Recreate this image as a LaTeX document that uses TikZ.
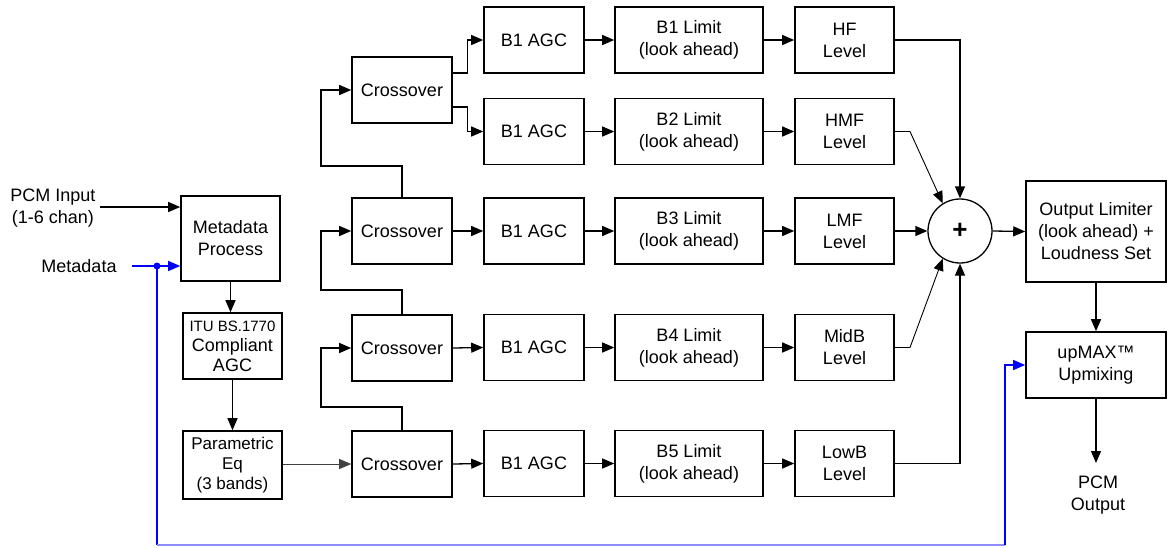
\documentclass[tikz,border=0pt]{standalone}
\usepackage{fontspec}
\setmainfont{Liberation Sans}
\usetikzlibrary{arrows.meta,calc}
\begin{document}
\begin{tikzpicture}[x=1pt,y=-1pt,
 box/.style={draw,line width=1.6pt,align=center,inner sep=0pt,font=\fontsize{18}{22}\selectfont},
 arr/.style={line width=1.3pt,-{Triangle[length=12pt,width=10pt]}},
 ln/.style={line width=1.3pt},
 thin arr/.style={line width=0.9pt,-{Triangle[length=12pt,width=10pt]}},
 lbl/.style={align=center,font=\fontsize{18}{22}\selectfont,inner sep=0pt}]
\useasboundingbox (0,0) rectangle (1168,547);

% left column
\node[box,minimum width=99pt,minimum height=85pt] (meta) at (230.5,238.5) {Metadata\\Process};
\node[box,minimum width=99pt,minimum height=66pt,font=\fontsize{15}{20}\selectfont] (itu) at (232.5,346) {ITU BS.1770\\\fontsize{18}{20}\selectfont Compliant\\\fontsize{18}{20}\selectfont AGC};
\node[box,minimum width=99pt,minimum height=68pt,font=\fontsize{17}{20}\selectfont] (peq) at (232.5,465) {Parametric\\Eq\\(3 bands)};

\node[lbl] (pcmin) at (53,208) {PCM Input\\(1-6 chan)};
\node[lbl] (mdlbl) at (79,266) {Metadata};

% crossovers
\node[box,minimum width=100pt,minimum height=66pt] (cross1) at (402,90) {Crossover};
\node[box,minimum width=100pt,minimum height=66pt] (cross2) at (402,231) {Crossover};
\node[box,minimum width=100pt,minimum height=66pt] (cross3) at (402,348) {Crossover};
\node[box,minimum width=100pt,minimum height=66pt] (cross4) at (402,464) {Crossover};

% rows
\foreach \i/\y/\lim/\lev in {1/40/B1/HF,2/131.5/B2/HMF,3/231/B3/LMF,4/347.5/B4/MidB,5/463.5/B5/LowB}{
  \node[box,minimum width=100pt,minimum height=66pt] (agc\i) at (534,\y) {B1 AGC};
  \node[box,minimum width=148pt,minimum height=66pt] (lim\i) at (689,\y) {\lim\ Limit\\(look ahead)};
  \node[box,minimum width=99pt,minimum height=66pt] (lev\i) at (844.5,\y) {\lev\\Level};
  \draw[arr] (agc\i.east) -- (lim\i.west);
  \draw[arr] (lim\i.east) -- (lev\i.west);
}

% sum and outputs
\node[draw,circle,line width=1.3pt,minimum size=64pt,inner sep=0pt,font=\fontsize{26}{26}\selectfont\bfseries] (sum) at (960,231) {+};
\node[box,minimum width=140pt,minimum height=101pt] (outlim) at (1096,231.5) {Output Limiter\\(look ahead) +\\Loudness Set};
\node[box,minimum width=140pt,minimum height=66pt] (upmax) at (1096,365) {upMAX™\\Upmixing};
\node[lbl] (pcmout) at (1098,495) {PCM\\Output};

% inputs
\coordinate (pinstart) at (100,207);
\draw[arr] (pinstart) -- (pinstart -| meta.west);
\draw[arr] (meta.south) -- (meta.south |- itu.north);
\draw[arr] (itu.south) -- (itu.south |- peq.north);
\draw[thin arr,black!75] (peq.east |- cross4.west) -- (cross4.west);

% crossover feeds
\coordinate (f1) at (321,166);
\coordinate (f2) at (321,290);
\coordinate (f3) at (321,407);
\draw[arr] (cross2.north) |- (f1) |- (cross1.west);
\draw[arr] (cross3.north) |- (f2) |- (cross2.west);
\draw[arr] (cross4.north) |- (f3) |- (cross3.west);

% crossover outputs
\draw[arr] ([yshift=17pt]cross1.east) -- ++(15,0) |- (agc1.west);
\draw[arr] ([yshift=-17pt]cross1.east) -- ++(15,0) |- (agc2.west);
\draw[arr] (cross2.east) -- (agc3.west);
\draw[arr] (cross3.east) -- (agc4.west);
\draw[arr] (cross4.east) -- (agc5.west);

% to sum
\coordinate (b2) at (910,131.5);
\coordinate (b4) at (910,347.5);
\draw[arr] (lev1.east) -| (sum.north);
\draw[thin arr] (lev2.east) -- (b2) -- (sum.122);
\draw[arr] (lev3.east) -- (sum.west);
\draw[thin arr] (lev4.east) -- (b4) -- (sum.238);
\draw[arr] (lev5.east) -| (sum.south);

\draw[arr] (sum.east) -- (outlim.west);
\draw[arr] (outlim.south) -- (upmax.north);
\coordinate (oend) at (1096,463);
\draw[arr] (upmax.south) -- (oend);

% metadata blue path
\coordinate (mdstart) at (132,266);
\coordinate (mdot) at (157,266);
\coordinate (bl1) at (157,545);
\coordinate (bl2) at (1005,545);
\draw[ln,blue] (mdstart) -- (mdot);
\draw[arr,blue] (mdot) -- (mdot -| meta.west);
\fill[blue] (mdot) circle (3.5);
\draw[ln,blue] (mdot) -- (bl1);
\draw[line width=1.3pt,blue!45] (bl1) -- (bl2);
\draw[arr,blue] (bl2) |- (upmax.west);
\end{tikzpicture}
\end{document}
